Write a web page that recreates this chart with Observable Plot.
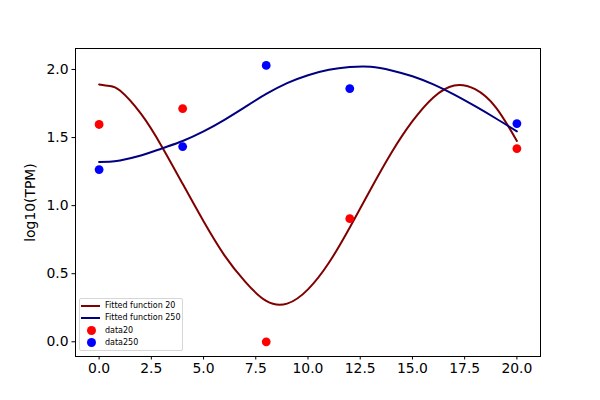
<!DOCTYPE html>
<html>
<head>
<meta charset="utf-8">
<script src="https://cdn.jsdelivr.net/npm/d3@7"></script>
<script src="https://cdn.jsdelivr.net/npm/@observablehq/plot@0.6"></script>
<style>
  body { margin: 0; background: #fff; }
  #wrap { position: relative; width: 600px; height: 400px; font-family: "DejaVu Sans", sans-serif; }
  #legend { position: absolute; left: 79px; top: 298px; width: 104px; height: 53px;
    border: 1px solid #d6d6d6; border-radius: 2px; background: rgba(255,255,255,0.8);
    font-size: 8px; color: #000; box-sizing: border-box; }
  .item { position: absolute; left: 0; height: 10px; line-height: 10px; }
  .item .sw { position: absolute; }
  .item .lab { position: absolute; left: 25px; white-space: nowrap; top: 0; }
</style>
</head>
<body>
<div id="wrap"></div>
<script>
// sampled data points
const sampleX = [0, 4, 8, 12, 20];
const data20 = [1.596, 1.713, 0.0, 0.904, 1.419];
const data250 = [1.265, 1.434, 2.03, 1.86, 1.603];

// fitted curves
const fitX = [0, 0.5, 1, 2, 3, 4, 5, 6, 7, 8, 9, 10, 11, 12, 13, 14, 15, 16, 17, 18, 19, 20];
const fit20 = [1.89, 1.879, 1.845, 1.675, 1.435, 1.16, 0.885, 0.635, 0.44, 0.30, 0.28, 0.385, 0.58, 0.84, 1.12, 1.39, 1.62, 1.795, 1.883, 1.855, 1.72, 1.475];
const fit250 = [1.32, 1.323, 1.332, 1.368, 1.42, 1.475, 1.545, 1.63, 1.725, 1.82, 1.9, 1.958, 1.998, 2.018, 2.02, 1.993, 1.95, 1.89, 1.815, 1.73, 1.64, 1.546];

const xTicks = [0, 2.5, 5, 7.5, 10, 12.5, 15, 17.5, 20];
const yTicks = [0, 0.5, 1.0, 1.5, 2.0];

const pts20 = sampleX.map((x, i) => ({x, y: data20[i]}));
const pts250 = sampleX.map((x, i) => ({x, y: data250[i]}));
const line20 = fitX.map((x, i) => ({x, y: fit20[i]}));
const line250 = fitX.map((x, i) => ({x, y: fit250[i]}));

const chart = Plot.plot({
  width: 600,
  height: 400,
  marginLeft: 75,
  marginRight: 60,
  marginTop: 48,
  marginBottom: 44,
  style: { fontFamily: "DejaVu Sans, sans-serif", fontSize: "13.9px", background: "#fff", color: "#000" },
  x: { domain: [-1.13, 21.13], ticks: xTicks, tickFormat: d3.format(".1f") },
  y: { domain: [-0.108, 2.154], ticks: yTicks, tickFormat: d3.format(".1f") },
  marks: [
    Plot.axisX({ ticks: xTicks, tickFormat: d3.format(".1f"), tickSize: 3.5, tickPadding: 3.5, label: null, fontSize: 13.9 }),
    Plot.axisY({ ticks: yTicks, tickFormat: d3.format(".1f"), tickSize: 3.5, tickPadding: 3.5, label: "log10(TPM)", labelAnchor: "center", labelArrow: "none", labelOffset: 50, fontSize: 13.9 }),
    Plot.line(line20, { x: "x", y: "y", stroke: "#800000", strokeWidth: 2, curve: "natural" }),
    Plot.line(line250, { x: "x", y: "y", stroke: "#000080", strokeWidth: 2, curve: "natural" }),
    Plot.dot(pts20, { x: "x", y: "y", r: 4.4, fill: "#ff0000", stroke: "none" }),
    Plot.dot(pts250, { x: "x", y: "y", r: 4.4, fill: "#0000ff", stroke: "none" }),
    Plot.frame({ stroke: "#000", strokeWidth: 1 })
  ]
});

const wrap = document.getElementById("wrap");
wrap.appendChild(chart);

const legendItems = [
  { label: "Fitted function 20", kind: "line", color: "#800000" },
  { label: "Fitted function 250", kind: "line", color: "#000080" },
  { label: "data20", kind: "dot", color: "#ff0000" },
  { label: "data250", kind: "dot", color: "#0000ff" }
];
const legend = document.createElement("div");
legend.id = "legend";
legendItems.forEach((it, i) => {
  const row = document.createElement("div");
  row.className = "item";
  row.style.top = (2 + i * 12.3) + "px";
  row.style.width = "100%";
  const sw = document.createElement("div");
  sw.className = "sw";
  if (it.kind === "line") {
    sw.style.left = "1px"; sw.style.top = "4px"; sw.style.width = "19px"; sw.style.height = "2px";
    sw.style.background = it.color;
  } else {
    sw.style.left = "6.5px"; sw.style.top = "0.5px"; sw.style.width = "9px"; sw.style.height = "9px";
    sw.style.borderRadius = "50%"; sw.style.background = it.color;
  }
  const lab = document.createElement("span");
  lab.className = "lab";
  lab.textContent = it.label;
  row.appendChild(sw); row.appendChild(lab);
  legend.appendChild(row);
});
wrap.appendChild(legend);
</script>
</body>
</html>
